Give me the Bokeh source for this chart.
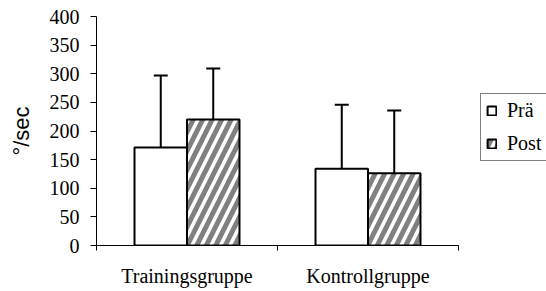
from bokeh.plotting import figure
from bokeh.models import (ColumnDataSource, Range1d, FixedTicker, Whisker, TeeHead,
                          Legend, LegendItem)
from bokeh.embed import file_html
from bokeh.resources import INLINE

categories = ["Trainingsgruppe", "Kontrollgruppe"]
series = ["Prä", "Post"]
pre_values = [171, 134]
post_values = [220, 126]
pre_sd = [126, 112]
post_sd = [89, 110]
y_ticks = [0, 50, 100, 150, 200, 250, 300, 350, 400]

n = len(categories)
centers = [i + 0.5 for i in range(n)]
offset = 0.145
bw = 0.29

pre_src = ColumnDataSource(dict(x=[c - offset for c in centers], top=pre_values,
                                upper=[v + s for v, s in zip(pre_values, pre_sd)]))
post_src = ColumnDataSource(dict(x=[c + offset for c in centers], top=post_values,
                                 upper=[v + s for v, s in zip(post_values, post_sd)]))

# plot area (362 px for the categories) extends right to host the legend
x_end = n * 450 / 362

p = figure(width=546, height=291, output_backend="svg", toolbar_location=None,
           x_range=Range1d(0, x_end), y_range=Range1d(0, 400),
           min_border_left=96, min_border_right=0, min_border_top=16, min_border_bottom=46)
p.outline_line_color = None
p.xgrid.visible = False
p.ygrid.visible = False
p.background_fill_color = "white"

serif = "Liberation Serif"

for src in (pre_src, post_src):
    w = Whisker(source=src, base="x", lower="top", upper="upper", dimension="height",
                line_color="black", line_width=2,
                upper_head=TeeHead(size=14, line_color="black", line_width=2),
                lower_head=None)
    p.add_layout(w)

r_pre = p.vbar(x="x", top="top", bottom=0, width=bw, source=pre_src,
               fill_color="white", line_color="black", line_width=2)
r_post = p.vbar(x="x", top="top", bottom=0, width=bw, source=post_src,
                fill_color="white", line_color="black", line_width=2,
                hatch_pattern="right_diagonal_line", hatch_color="#808080",
                hatch_scale=19, hatch_weight=5)

ya = p.yaxis[0]
ya.ticker = FixedTicker(ticks=y_ticks)
ya.major_tick_out = 6
ya.major_tick_in = 0
ya.minor_tick_out = 0
ya.minor_tick_in = 0
ya.axis_line_color = "black"
ya.major_tick_line_color = "black"
ya.major_label_text_font = serif
ya.major_label_text_font_size = "20px"
ya.major_label_text_color = "black"
ya.major_label_standoff = 11
ya.axis_label = "°/sec"
ya.axis_label_text_font = "Liberation Sans"
ya.axis_label_text_font_size = "22px"
ya.axis_label_text_font_style = "normal"
ya.axis_label_text_color = "black"
ya.axis_label_standoff = 13

xa = p.xaxis[0]
xa.bounds = (0, n)
xa.ticker = FixedTicker(ticks=centers, minor_ticks=list(range(n + 1)))
xa.major_label_overrides = {c: cat for c, cat in zip(centers, categories)}
xa.major_tick_out = 0
xa.major_tick_in = 0
xa.minor_tick_out = 5
xa.minor_tick_in = 0
xa.minor_tick_line_color = "black"
xa.axis_line_color = "black"
xa.major_label_text_font = serif
xa.major_label_text_font_size = "20px"
xa.major_label_text_color = "black"
xa.major_label_standoff = 14

legend = Legend(items=[LegendItem(label=series[0], renderers=[r_pre]),
                       LegendItem(label=series[1], renderers=[r_post])],
                location=(384, 84))
legend.border_line_color = "black"
legend.border_line_width = 1
legend.background_fill_color = "white"
legend.background_fill_alpha = 1
legend.label_text_font = serif
legend.label_text_font_size = "20px"
legend.label_text_color = "black"
legend.label_height = 20
legend.glyph_height = 11
legend.glyph_width = 11
legend.spacing = 10
legend.padding = 5
legend.margin = 0
legend.label_standoff = 10
p.add_layout(legend)

open("out.html", "w").write(file_html(p, INLINE))
